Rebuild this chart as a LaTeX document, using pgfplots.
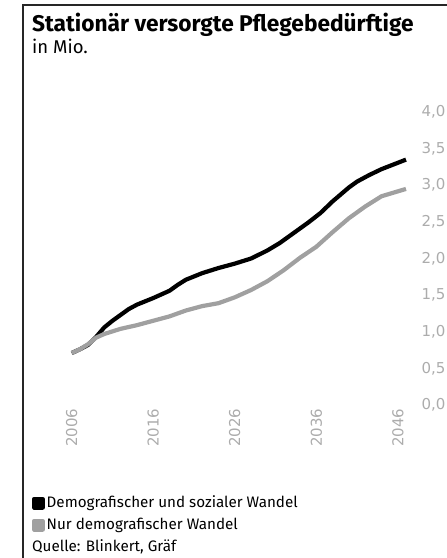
\documentclass[border=0pt]{standalone}
\usepackage{pgfplots}
\pgfplotsset{compat=1.18}
\usepackage{fontspec}
\setmainfont{Fira Sans}
\newfontfamily\tickfont{DejaVu Sans}
\definecolor{lgray}{RGB}{160,160,160}
\definecolor{tgray}{RGB}{172,172,172}
\begin{document}
\begin{tikzpicture}
\path[use as bounding box] (0pt,0pt) rectangle (447pt,-558pt);
\draw[line width=1.5pt, black!85] (448pt,-5pt) -- (23pt,-5pt) -- (23pt,-559pt);
\node[anchor=base west, inner sep=0pt] at (32pt,-31.5pt) {\fontsize{22.7}{26}\selectfont\bfseries Stationär versorgte Pflegebedürftige};
\node[anchor=base west, inner sep=0pt] at (32pt,-53pt) {\fontsize{18.5}{21}\selectfont in Mio.};
\begin{axis}[
  at={(71.7pt,-405pt)}, anchor=south west,
  scale only axis, width=334.3pt, height=293pt,
  xmin=2006, xmax=2047, ymin=0, ymax=4,
  /pgf/number format/assume math mode=true,
  axis line style={draw=none}, tick style={draw=none}, major tick length=0pt,
  tick label style={font=\tickfont\fontsize{15}{18}\selectfont, text=tgray},
  xtick={2006,2016,2026,2036,2046},
  xticklabel={\pgfmathprintnumber[assume math mode=true,1000 sep={},fixed,precision=0]{\tick}},
  xticklabel style={rotate=90, anchor=east},
  ytick={0,0.5,1,1.5,2,2.5,3,3.5,4},
  yticklabel={\pgfmathprintnumber[assume math mode=true,use comma,fixed,fixed zerofill,precision=1]{\tick}},
  yticklabel pos=right,
  yticklabel style={anchor=west, xshift=12pt},
  clip=false,
  legend cell align=left,
  legend image code/.code={\fill[#1] (0pt,-4.25pt) rectangle (8.5pt,4.25pt);},
  legend style={at={(axis description cs:-0.1188,-0.306)}, anchor=north west,
    draw=none, fill=none, inner sep=0pt, outer sep=0pt,
    font=\fontsize{15.2}{18}\selectfont, row sep=5pt,
    nodes={inner sep=0pt, text height=13pt, text depth=4pt}},
]
\addplot[black, line width=4.2pt, line join=round] coordinates {
(2006,0.71) (2007,0.76) (2008,0.82) (2009,0.93) (2010,1.06) (2011,1.15)
(2012,1.23) (2013,1.31) (2014,1.37) (2016,1.46) (2017,1.51) (2018,1.56)
(2019,1.64) (2020,1.71) (2022,1.80) (2024,1.87) (2026,1.93) (2028,2.00)
(2030,2.11) (2031.5,2.21) (2033,2.33) (2035,2.49) (2036.5,2.62) (2038,2.78)
(2040,2.97) (2041,3.05) (2042.5,3.14) (2044,3.22) (2047,3.35)};
\addlegendentry{\hspace{2pt}Demografischer und sozialer Wandel}
\addplot[lgray, line width=4.2pt, line join=round] coordinates {
(2006,0.71) (2007,0.76) (2008,0.83) (2009,0.92) (2010,0.97) (2012,1.04)
(2014,1.09) (2016,1.15) (2018,1.21) (2020,1.29) (2022,1.35) (2024,1.39)
(2026,1.47) (2028,1.57) (2030,1.69) (2032,1.84) (2034,2.01) (2036,2.16)
(2038,2.36) (2040,2.55) (2042,2.71) (2044,2.85) (2047,2.95)};
\addlegendentry{\hspace{2pt}Nur demografischer Wandel}
\end{axis}
\node[anchor=base west, inner sep=0pt] at (32pt,-551pt) {\fontsize{15.2}{18}\selectfont Quelle: Blinkert, Gräf};
\end{tikzpicture}
\end{document}
